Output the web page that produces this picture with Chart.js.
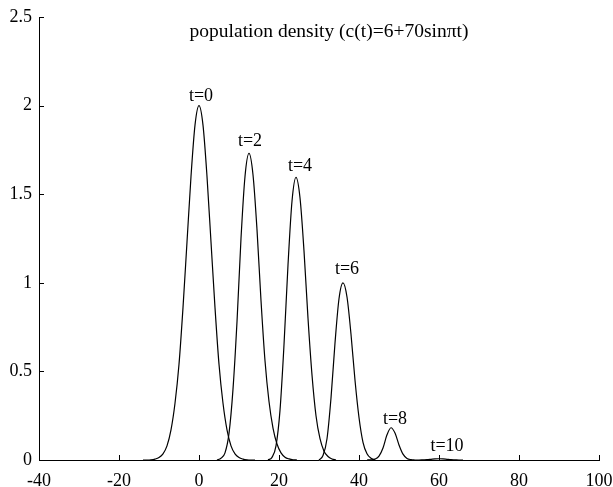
<!DOCTYPE html>
<html>
<head>
<meta charset="utf-8">
<script src="https://cdn.jsdelivr.net/npm/chart.js@4.4.1/dist/chart.umd.min.js"></script>
<style>
  html, body { margin: 0; padding: 0; background: #fff; }
</style>
</head>
<body>
<canvas id="chart" width="613" height="487"></canvas>
<script>
// Curves (x in space units, y = density)
const t0X = [-14,-13,-12,-11,-10,-9,-8,-7,-6,-5,-4,-3,-2,-1,0,1,2,3,4,5,6,7,8,9,10,11,12,13,14];
const t0Y = [0,0,0.001,0.005,0.014,0.035,0.08,0.17,0.32,0.54,0.86,1.23,1.60,1.89,2.00,1.89,1.60,1.23,0.86,0.54,0.32,0.17,0.08,0.035,0.014,0.005,0.001,0,0];

const t2X = [4.5,5.5,6.5,7.5,8.5,9.5,10.5,11.5,12.5,13.5,14.5,15.5,16.5,17.5,18.5,19.5,20.5,21.5,22.5,23.5,24.5];
const t2Y = [0,0.01,0.04,0.15,0.40,0.78,1.25,1.60,1.73,1.61,1.30,0.90,0.56,0.33,0.18,0.09,0.04,0.016,0.006,0.001,0];

const t4X = [17.25,18.25,19.25,20.25,21.25,22.25,23.25,24.25,25.25,26.25,27.25,28.25,29.25,30.25,31.25,32.25,33.25,34.25];
const t4Y = [0,0.015,0.08,0.28,0.65,1.10,1.46,1.595,1.48,1.18,0.80,0.48,0.25,0.12,0.05,0.02,0.006,0];

const t6X = [30,31,32,33,34,35,36,37,38,39,40,41,42,43,44];
const t6Y = [0,0.025,0.12,0.35,0.66,0.91,1.0,0.92,0.71,0.45,0.24,0.10,0.035,0.01,0];

const t8X = [42,43,44,45,46,47,48,49,50,51,52,53,54];
const t8Y = [0,0.001,0.005,0.022,0.068,0.142,0.182,0.152,0.085,0.033,0.009,0.002,0];

const t10X = [54,55,56,57,58,59,60,61,62,63,64,65,66];
const t10Y = [0,0,0.001,0.002,0.004,0.006,0.007,0.006,0.004,0.002,0.001,0,0];

// Curve labels and where they sit (data units)
const labelText = ['t=0', 't=2', 't=4', 't=6', 't=8', 't=10'];
const labelX = [0.5, 12.75, 25.25, 37.0, 49.0, 62.0];
const labelY = [2.054, 1.80, 1.66, 1.078, 0.231, 0.079];

const titleText = 'population density (c(t)=6+70sin\u03C0t)';

const FONT = '"Liberation Serif", "Times New Roman", serif';

function pts(xs, ys) {
    return xs.map((x, i) => ({ x: x, y: ys[i] }));
}

function curve(xs, ys) {
    return {
        data: pts(xs, ys),
        borderColor: '#000',
        borderWidth: 1.2,
        pointRadius: 0,
        fill: false,
        tension: 0.4,
        cubicInterpolationMode: 'monotone',
        clip: false
    };
}

// labels, title and inward tick marks
const extras = {
    id: 'extras',
    afterDraw(chart) {
        const { ctx, chartArea, scales: { x, y } } = chart;
        ctx.save();
        ctx.strokeStyle = '#000';
        ctx.lineWidth = 1;
        x.ticks.forEach(t => {
            const px = Math.round(x.getPixelForValue(t.value)) + 0.5;
            ctx.beginPath();
            ctx.moveTo(px, chartArea.bottom);
            ctx.lineTo(px, chartArea.bottom - 5);
            ctx.stroke();
        });
        y.ticks.forEach(t => {
            const py = Math.round(y.getPixelForValue(t.value)) + 0.5;
            ctx.beginPath();
            ctx.moveTo(chartArea.left, py);
            ctx.lineTo(chartArea.left + 5, py);
            ctx.stroke();
        });

        ctx.fillStyle = '#000';
        ctx.textAlign = 'center';
        ctx.textBaseline = 'middle';
        ctx.font = '18px ' + FONT;
        labelText.forEach((txt, i) => {
            ctx.fillText(txt, x.getPixelForValue(labelX[i]), y.getPixelForValue(labelY[i]));
        });
        ctx.font = '19.5px ' + FONT;
        ctx.fillText(titleText, x.getPixelForValue(32.5), y.getPixelForValue(2.415));
        ctx.restore();
    }
};

new Chart(document.getElementById('chart').getContext('2d'), {
    type: 'line',
    data: {
        datasets: [
            curve(t0X, t0Y),
            curve(t2X, t2Y),
            curve(t4X, t4Y),
            curve(t6X, t6Y),
            curve(t8X, t8Y),
            curve(t10X, t10Y)
        ]
    },
    options: {
        responsive: false,
        animation: false,
        layout: { padding: { top: 17, right: 14, left: 0, bottom: 0 } },
        plugins: {
            legend: { display: false },
            tooltip: { enabled: false }
        },
        scales: {
            x: {
                type: 'linear',
                min: -40,
                max: 100,
                grid: { display: false, drawTicks: false },
                border: { display: true, color: '#000', width: 1 },
                ticks: {
                    stepSize: 20,
                    color: '#000',
                    padding: 10,
                    maxRotation: 0,
                    font: { family: FONT, size: 18 }
                },
                afterFit(scale) {
                    scale.height = 27;
                    scale.paddingRight = 0;
                    scale.paddingLeft = 0;
                }
            },
            y: {
                min: 0,
                max: 2.5,
                grid: { display: false, drawTicks: false },
                border: { display: true, color: '#000', width: 1 },
                ticks: {
                    stepSize: 0.5,
                    color: '#000',
                    padding: 7,
                    font: { family: FONT, size: 18 },
                    callback: v => String(v)
                },
                afterFit(scale) {
                    scale.width = 39;
                    scale.paddingTop = 0;
                    scale.paddingBottom = 0;
                }
            }
        }
    },
    plugins: [extras]
});
</script>
</body>
</html>
